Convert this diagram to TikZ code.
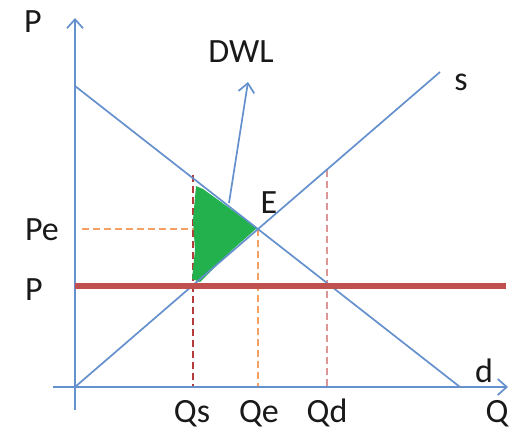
\documentclass[tikz,border=0pt]{standalone}
\usepackage{fontspec}
\setmainfont{Carlito}
\usetikzlibrary{arrows.meta}
\definecolor{axisblue}{RGB}{100,145,205}
\definecolor{ceilred}{RGB}{192,80,77}
\definecolor{darkred}{RGB}{180,60,60}
\definecolor{pinkred}{RGB}{220,150,150}
\definecolor{orangeline}{RGB}{247,160,100}
\definecolor{dwlgreen}{RGB}{34,177,76}
\begin{document}
\begin{tikzpicture}[x=1pt,y=-1pt,
  curve/.style={draw=axisblue, line width=1.7pt},
  axisarrow/.style={curve, -{Straight Barb[length=9pt,width=16pt,line width=1.7pt]}},
  guide/.style={line width=1.7pt, dash pattern=on 7pt off 4pt},
  lbl/.style={font=\fontsize{34}{40}\selectfont, text=black!90, inner sep=0pt, anchor=base}]
\useasboundingbox (0,0) rectangle (523,431);
% key points
\coordinate (ytop) at (75,18);
\coordinate (ybot) at (75,410);
\coordinate (xl) at (53,387);
\coordinate (xr) at (508,387);
\coordinate (O) at (75,387);
\coordinate (dA) at (75,86);
\coordinate (dB) at (460,387);
\coordinate (sB) at (440,72);
\coordinate (E) at (258,229);
\coordinate (qsTop) at (193,175);
\coordinate (qsBot) at (193,387);
\coordinate (qeBot) at (258,387);
\coordinate (qdTop) at (327,170);
\coordinate (qdBot) at (327,387);
\coordinate (peL) at (82,229);
\coordinate (cL) at (75,286);
\coordinate (cR) at (506,286);
\coordinate (dwlS) at (229,203);
\coordinate (dwlT) at (248,82);
% guides
\draw[guide, darkred] (qsTop) -- (qsBot);
\draw[guide, pinkred, line width=2.2pt] (qdTop) -- (qdBot);
\draw[guide, orangeline] (E) -- (qeBot);
\draw[guide, orangeline] (peL) -- (E);
% deadweight loss triangle
\fill[dwlgreen] (196,186) -- (203,189) -- (257,228) -- (232,250) -- (200,282) -- (192,279) -- (195,250) -- (193,220) -- cycle;
% axes
\draw[axisarrow] (ybot) -- (ytop);
\draw[axisarrow] (xl) -- (xr);
% curves
\draw[curve] (dA) -- (dB);
\draw[curve] (O) -- (sB);
% price ceiling
\draw[ceilred, line width=5.5pt] (cL) -- (cR);
% DWL pointer
\draw[axisarrow] (dwlS) -- (dwlT);
% labels
\node[lbl] (lP) at (33,32) {P};
\node[lbl] (lDWL) at (241,63) {DWL};
\node[lbl] (ls) at (461,90) {s};
\node[lbl] (lE) at (269,213) {E};
\node[lbl] (lPe) at (42,240) {Pe};
\node[lbl] (lPc) at (34,300) {P};
\node[lbl] (ld) at (484,382) {d};
\node[lbl] (lQs) at (192,422) {Qs};
\node[lbl] (lQe) at (259,422) {Qe};
\node[lbl] (lQd) at (327,422) {Qd};
\node[lbl] (lQ) at (497,422) {Q};
\end{tikzpicture}
\end{document}
